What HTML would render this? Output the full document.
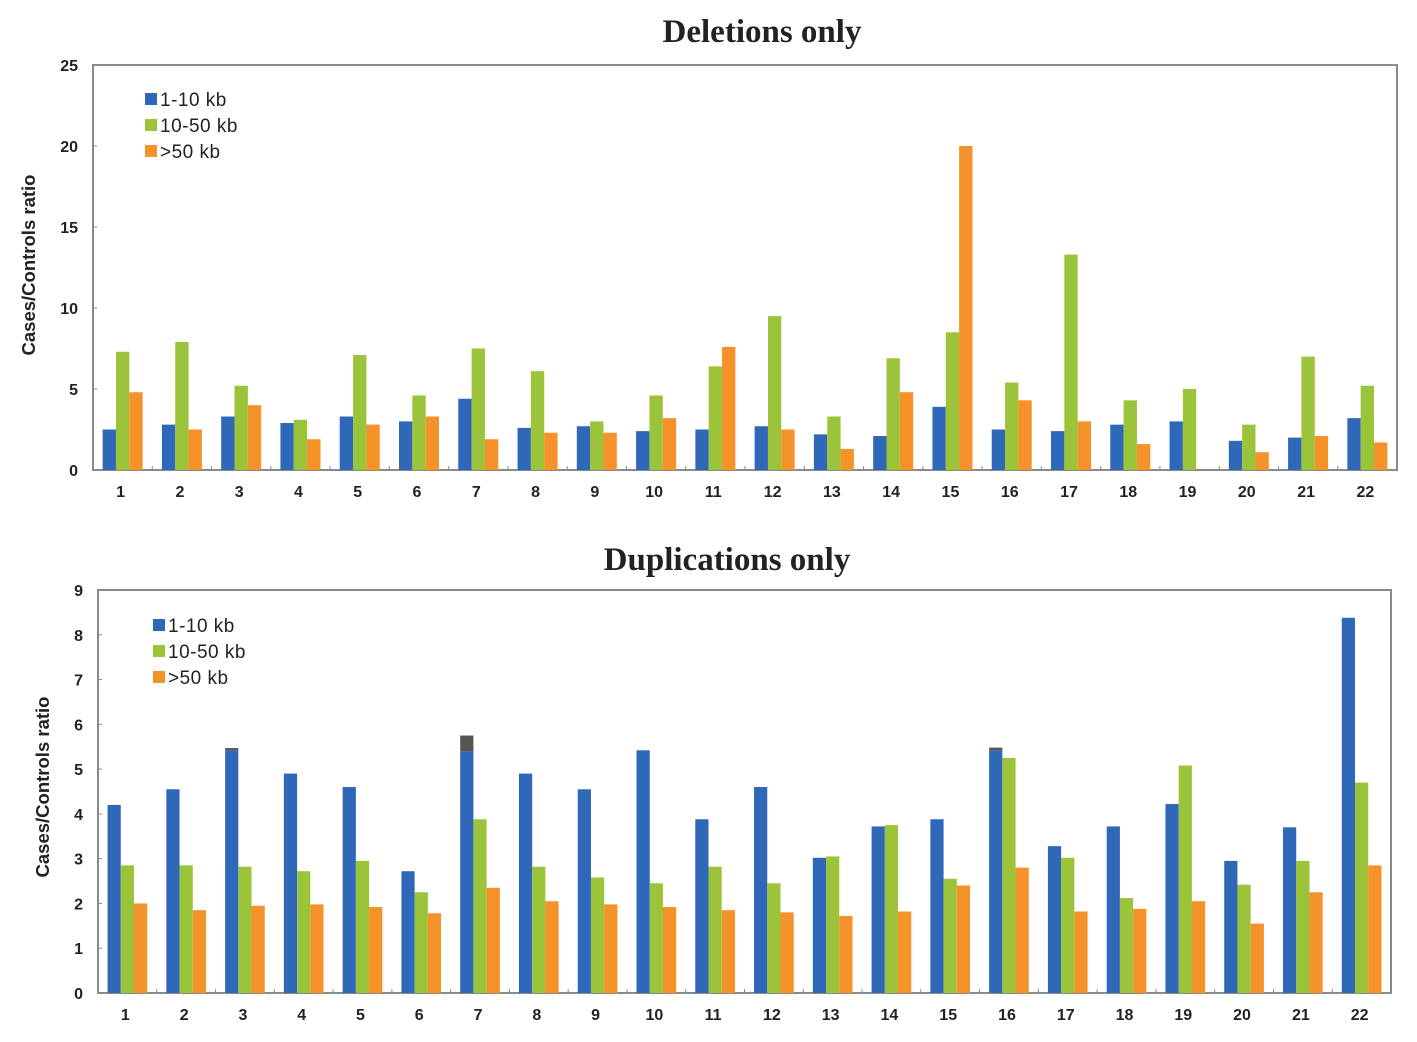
<!DOCTYPE html>
<html><head><meta charset="utf-8"><style>
html,body{margin:0;padding:0;background:#fff;}
svg{display:block;}
</style></head><body>
<svg id="svg" width="1417" height="1042" xmlns="http://www.w3.org/2000/svg">
<text x="762" y="42" text-anchor="middle" font-family="Liberation Serif, serif" font-weight="bold" font-size="33" fill="#222">Deletions only</text>
<text x="727" y="570" text-anchor="middle" font-family="Liberation Serif, serif" font-weight="bold" font-size="33" fill="#222">Duplications only</text>
</svg>
<script>
const categories = ["1","2","3","4","5","6","7","8","9","10","11","12","13","14","15","16","17","18","19","20","21","22"];
const delSmall = [2.5,2.8,3.3,2.9,3.3,3.0,4.4,2.6,2.7,2.4,2.5,2.7,2.2,2.1,3.9,2.5,2.4,2.8,3.0,1.8,2.0,3.2];
const delMid = [7.3,7.9,5.2,3.1,7.1,4.6,7.5,6.1,3.0,4.6,6.4,9.5,3.3,6.9,8.5,5.4,13.3,4.3,5.0,2.8,7.0,5.2];
const delLarge = [4.8,2.5,4.0,1.9,2.8,3.3,1.9,2.3,2.3,3.2,7.6,2.5,1.3,4.8,20.0,4.3,3.0,1.6,0,1.1,2.1,1.7];
const dupSmall = [4.2,4.55,5.42,4.9,4.6,2.72,5.4,4.9,4.55,5.42,3.88,4.6,3.02,3.72,3.88,5.42,3.28,3.72,4.22,2.95,3.7,8.38];
const dupMid = [2.85,2.85,2.82,2.72,2.95,2.25,3.88,2.82,2.58,2.45,2.82,2.45,3.05,3.75,2.55,5.25,3.02,2.12,5.08,2.42,2.95,4.7];
const dupLarge = [2.0,1.85,1.95,1.98,1.92,1.78,2.35,2.05,1.98,1.92,1.85,1.8,1.72,1.82,2.4,2.8,1.82,1.88,2.05,1.55,2.25,2.85];
const dupGrayCap = [0,0,0.05,0,0,0,0.35,0,0,0,0,0,0,0,0,0.06,0,0,0,0,0,0];
const delTicks = [0,5,10,15,20,25];
const dupTicks = [0,1,2,3,4,5,6,7,8,9];
const legendLabels = ["1-10 kb","10-50 kb",">50 kb"];
const colors = ["#2f68b8","#9bc43a","#f5922a"];
const NS="http://www.w3.org/2000/svg";
const svg=document.getElementById('svg');
function mk(tag,attrs,parent){const e=document.createElementNS(NS,tag);for(const k in attrs)e.setAttribute(k,attrs[k]);(parent||svg).appendChild(e);return e;}
function chart(cfg){
  const g=mk('g',{});
  
  
  const {L,R,T,B,max}=cfg;
  const y=v=>B-(v/max)*(B-T);
  const gw=(R-L)/categories.length;
  const x=i=>L+i*gw;
  const bw=gw*0.225;
  const off=(gw-3*bw)/2;
  const f=mk('rect',{x:L,y:T,width:R-L,height:B-T,fill:'none',stroke:'#8a8a8a','stroke-width':2},g);
  
  
  cfg.ticks.forEach(t=>{
    const tl=mk('line',{x1:L,x2:L+4,y1:y(t),y2:y(t),stroke:'#8a8a8a','stroke-width':1},g);
    
    
    const tx=mk('text',{x:L-15,y:y(t)+6,'text-anchor':'end','font-family':'Liberation Sans, sans-serif','font-weight':'bold','font-size':16,fill:'#222'},g);
    tx.textContent=t;
    
    
  });
  const series=cfg.series;
  categories.forEach((c,i)=>{
    series.forEach((s,k)=>{
      const v=s[i];
      if(v<=0)return;
      const r=mk('rect',{x:x(i)+off+k*bw,y:y(v),width:bw,height:B-y(v),fill:colors[k]},g);
      
      
    });
    if(cfg.cap&&cfg.cap[i]>0){
      const base=series[0][i];
      const r=mk('rect',{x:x(i)+off,y:y(base+cfg.cap[i]),width:bw,height:y(base)-y(base+cfg.cap[i]),fill:'#555'},g);
      
      
    }
    if(i>0){
      const tk=mk('line',{x1:x(i),x2:x(i),y1:B,y2:B-4,stroke:'#8a8a8a','stroke-width':1},g);
      
      
    }
    const lb=mk('text',{x:x(i)+gw/2-2,y:B+27,'text-anchor':'middle','font-family':'Liberation Sans, sans-serif','font-weight':'bold','font-size':16,fill:'#222'},g);
    lb.textContent=c;
    
    
  });
  const yt=mk('text',{x:0,y:0,transform:`translate(${cfg.ytx},${cfg.yty}) rotate(-90)`,'text-anchor':'middle','font-family':'Liberation Sans, sans-serif','font-weight':'bold','font-size':18.5,fill:'#222'},g);
  yt.textContent='Cases/Controls ratio';
  
  
  legendLabels.forEach((lab,k)=>{
    const ly=cfg.legY+k*26;
    const sq=mk('rect',{x:cfg.legX,y:ly-12,width:12,height:12,fill:colors[k]},g);
    
    
    const lt=mk('text',{x:cfg.legX+15,y:ly+1,'font-family':'Liberation Sans, sans-serif','font-size':19,'letter-spacing':'0.5',fill:'#222'},g);
    lt.textContent=lab;
    
    
  });
}
chart({name:'deletions-chart',L:93,R:1397,T:65,B:470,max:25,ticks:delTicks,series:[delSmall,delMid,delLarge],ytx:35,yty:265,legX:145,legY:105});
chart({name:'duplications-chart',L:98,R:1391,T:590,B:993,max:9,ticks:dupTicks,series:[dupSmall,dupMid,dupLarge],cap:dupGrayCap,ytx:49,yty:787,legX:153,legY:631});
</script>
</body></html>
